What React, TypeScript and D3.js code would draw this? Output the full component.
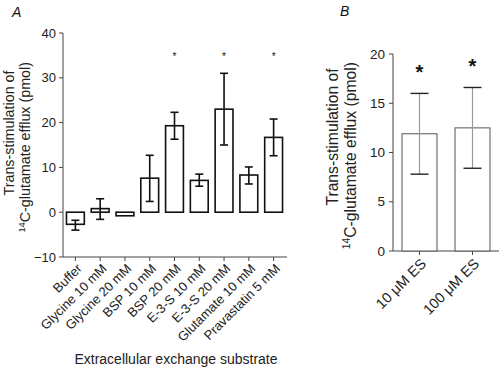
import React from 'react'
import * as d3 from 'd3'

// panel A
const substrates = ['Buffer', 'Glycine 10 mM', 'Glycine 20 mM', 'BSP 10 mM', 'BSP 20 mM', 'E-3-S 10 mM', 'E-3-S 20 mM', 'Glutamate 10 mM', 'Pravastatin 5 mM']
const effluxA = [-2.7, 0.8, -0.8, 7.6, 19.3, 7.1, 23.0, 8.3, 16.7]
const errLowA = [-4.0, -1.6, -0.8, 2.4, 16.3, 5.8, 15.0, 6.3, 12.6]
const errHighA = [-1.8, 3.0, -0.8, 12.7, 22.3, 8.5, 31.0, 10.1, 20.8]
const sigA = [false, false, false, false, true, false, true, false, true]
const ticksA = [-10, 0, 10, 20, 30, 40]

// panel B
const esDoses = ['10 μM ES', '100 μM ES']
const effluxB = [11.9, 12.5]
const errLowB = [7.8, 8.4]
const errHighB = [16.0, 16.6]
const ticksB = [0, 5, 10, 15, 20]

const font = 'Liberation Sans, Arial, sans-serif'

// two line rotated title; line1 centred at c1, line2 ends at top2
const YTitle = ({ x, c1, top2, size }: { x: number; c1: number; top2: number; size: number }) => (
  <g fontFamily={font} fontSize={size} fill="#222">
    <text transform={`translate(${x},${c1}) rotate(-90)`} textAnchor="middle">Trans-stimulation of</text>
    <text transform={`translate(${x + size * 1.15},${top2}) rotate(-90)`} textAnchor="end">
      <tspan fontSize={size * 0.65} dy={-size * 0.38}>14</tspan>
      <tspan dy={size * 0.38}>C-glutamate efflux (pmol)</tspan>
    </text>
  </g>
)

export default function App() {
  const xA = d3.scaleBand<string>().domain(substrates).range([63, 286]).paddingInner(0.28).paddingOuter(0.14)
  const yA = d3.scaleLinear().domain([-10, 40]).range([257, 33])
  const xB = d3.scaleBand<string>().domain(esDoses).range([393, 499]).paddingInner(0.34).paddingOuter(0.17)
  const yB = d3.scaleLinear().domain([0, 20]).range([251, 54])

  const capA = 4
  const capB = 9

  return (
    <svg width={500} height={374} style={{ position: 'absolute', left: 0, top: 0, background: '#fff' }}>
      <text x={12} y={17} fontFamily={font} fontSize={14} fontStyle="italic" fill="#111">A</text>
      <text x={340} y={16} fontFamily={font} fontSize={14} fontStyle="italic" fill="#111">B</text>

      {/* panel A */}
      <YTitle x={14} c1={133} top2={62} size={14.3} />
      <g stroke="#444" strokeWidth={1}>
        <line x1={63} x2={63} y1={yA(40)} y2={yA(-10)} />
        <line x1={63} x2={287} y1={yA(-10)} y2={yA(-10)} />
        {ticksA.map((t) => (
          <line key={t} x1={59} x2={63} y1={yA(t)} y2={yA(t)} />
        ))}
        {substrates.map((s) => (
          <line key={s} x1={xA(s)! + xA.bandwidth() / 2} x2={xA(s)! + xA.bandwidth() / 2} y1={yA(-10)} y2={yA(-10) + 4} />
        ))}
      </g>
      {ticksA.map((t) => (
        <text key={t} x={56} y={yA(t)} dy="0.35em" textAnchor="end" fontFamily={font} fontSize={13} fill="#222">
          {t < 0 ? `−${-t}` : t}
        </text>
      ))}
      {substrates.map((s, i) => {
        const v = effluxA[i]
        const cx = xA(s)! + xA.bandwidth() / 2
        return (
          <g key={s}>
            <rect x={xA(s)} y={yA(Math.max(0, v))} width={xA.bandwidth()} height={Math.abs(yA(v) - yA(0))} fill="#fff" stroke="#111" strokeWidth={1.6} />
            {errHighA[i] !== errLowA[i] && (
              <g stroke="#111" strokeWidth={1.6}>
                <line x1={cx} x2={cx} y1={yA(errLowA[i])} y2={yA(errHighA[i])} />
                <line x1={cx - capA} x2={cx + capA} y1={yA(errLowA[i])} y2={yA(errLowA[i])} />
                <line x1={cx - capA} x2={cx + capA} y1={yA(errHighA[i])} y2={yA(errHighA[i])} />
              </g>
            )}
            {sigA[i] && (
              <text x={cx} y={yA(34)} fontFamily={font} fontSize={10} textAnchor="middle" fill="#111">*</text>
            )}
            <text transform={`translate(${cx + 4},${yA(-10) + 9}) rotate(-45)`} dy="0.35em" textAnchor="end" fontFamily={font} fontSize={13} fill="#222">
              {s}
            </text>
          </g>
        )
      })}
      <text x={176} y={364} textAnchor="middle" fontFamily={font} fontSize={14} fill="#222">Extracellular exchange substrate</text>

      {/* panel B */}
      <YTitle x={338} c1={137} top2={62} size={15.7} />
      <g stroke="#444" strokeWidth={1}>
        <line x1={393} x2={393} y1={yB(20)} y2={yB(0)} />
        <line x1={393} x2={499} y1={yB(0)} y2={yB(0)} />
        {ticksB.map((t) => (
          <line key={t} x1={389} x2={393} y1={yB(t)} y2={yB(t)} />
        ))}
        {esDoses.map((s) => (
          <line key={s} x1={xB(s)! + xB.bandwidth() / 2} x2={xB(s)! + xB.bandwidth() / 2} y1={yB(0)} y2={yB(0) + 4} />
        ))}
      </g>
      {ticksB.map((t) => (
        <text key={t} x={385} y={yB(t)} dy="0.35em" textAnchor="end" fontFamily={font} fontSize={13.5} fill="#222">
          {t}
        </text>
      ))}
      {esDoses.map((s, i) => {
        const cx = xB(s)! + xB.bandwidth() / 2
        return (
          <g key={s}>
            <rect x={xB(s)} y={yB(effluxB[i])} width={xB.bandwidth()} height={yB(0) - yB(effluxB[i])} fill="#fff" stroke="#555" strokeWidth={1} />
            <line x1={cx} x2={cx} y1={yB(errLowB[i])} y2={yB(errHighB[i])} stroke="#999" strokeWidth={1.2} />
            <line x1={cx - capB} x2={cx + capB} y1={yB(errLowB[i])} y2={yB(errLowB[i])} stroke="#222" strokeWidth={1.4} />
            <line x1={cx - capB} x2={cx + capB} y1={yB(errHighB[i])} y2={yB(errHighB[i])} stroke="#222" strokeWidth={1.4} />
            <text x={cx} y={yB(errHighB[i]) - 14} fontFamily={font} fontSize={20} fontWeight="bold" textAnchor="middle" fill="#111">*</text>
            <text transform={`translate(${cx + 4},${yB(0) + 10}) rotate(-45)`} dy="0.35em" textAnchor="end" fontFamily={font} fontSize={14.5} fill="#222">
              {s}
            </text>
          </g>
        )
      })}
    </svg>
  )
}
